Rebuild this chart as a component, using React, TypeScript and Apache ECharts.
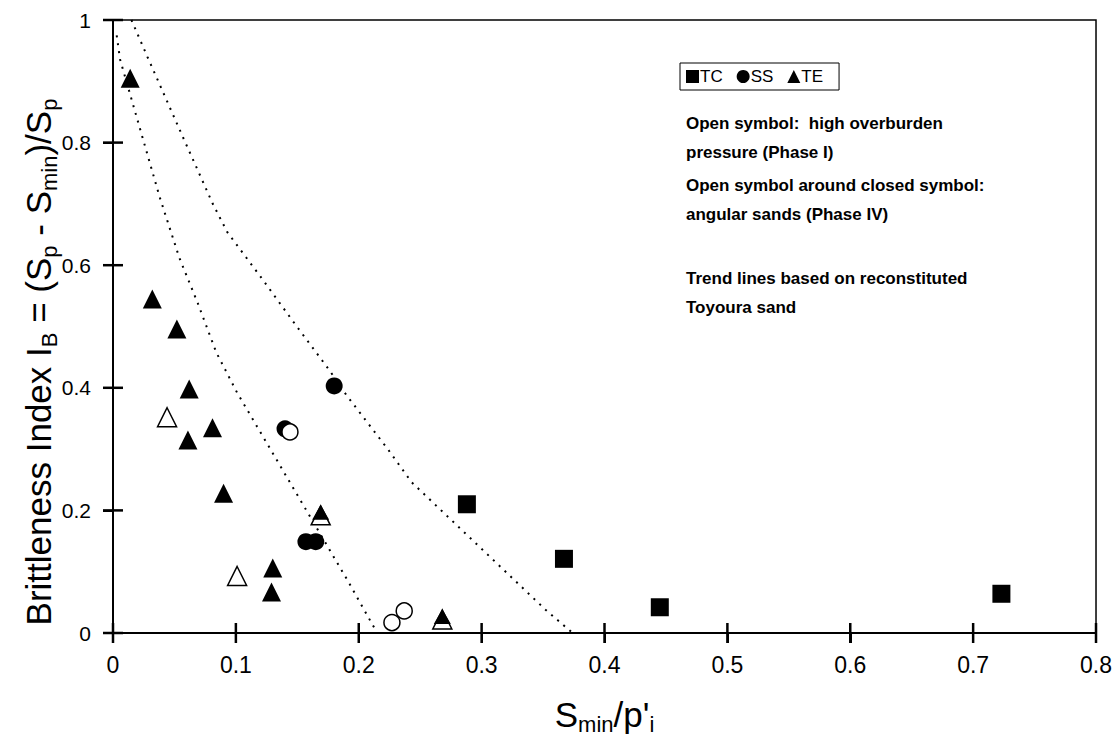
import React, { useEffect, useRef } from "react";
import * as echarts from "echarts";

// Axis ranges (S_min / p'_i on x, brittleness index on y)
const X_MIN = 0;
const X_MAX = 0.8;
const X_STEP = 0.1;
const Y_MIN = 0;
const Y_MAX = 1;
const Y_STEP = 0.2;

// Tick positions (drawn as crossing ticks on both axes)
const xTicks = [0, 0.1, 0.2, 0.3, 0.4, 0.5, 0.6, 0.7, 0.8];
const yTicks = [0, 0.2, 0.4, 0.6, 0.8, 1];

// TC: triaxial compression, SS: simple shear, TE: triaxial extension
const tcClosed: number[][] = [
  [0.288, 0.21],
  [0.367, 0.121],
  [0.445, 0.042],
  [0.723, 0.064],
];
const ssClosed: number[][] = [
  [0.18, 0.403],
  [0.14, 0.333],
  [0.157, 0.149],
  [0.165, 0.149],
];
const ssHighOverburden: number[][] = [
  [0.144, 0.328],
  [0.227, 0.017],
  [0.237, 0.036],
];
const teClosed: number[][] = [
  [0.014, 0.905],
  [0.032, 0.545],
  [0.052, 0.496],
  [0.062, 0.398],
  [0.081, 0.335],
  [0.061, 0.315],
  [0.09, 0.228],
  [0.13, 0.106],
  [0.129, 0.067],
];
const teHighOverburden: number[][] = [
  [0.044, 0.352],
  [0.101, 0.093],
];
const teAngular: number[][] = [
  [0.169, 0.192],
  [0.268, 0.022],
];

// Trend lines for reconstituted Toyoura sand
const lowerTrend: number[][] = [
  [0.003, 0.975],
  [0.0057, 0.936],
  [0.038, 0.711],
  [0.054, 0.612],
  [0.069, 0.538],
  [0.084, 0.458],
  [0.101, 0.392],
  [0.126, 0.307],
  [0.192, 0.082],
  [0.215, 0],
];
const upperTrend: number[][] = [
  [0.015, 1.0],
  [0.028, 0.94],
  [0.058, 0.804],
  [0.081, 0.701],
  [0.093, 0.654],
  [0.122, 0.576],
  [0.147, 0.507],
  [0.176, 0.429],
  [0.19, 0.388],
  [0.224, 0.299],
  [0.243, 0.246],
  [0.352, 0.038],
  [0.374, 0],
];

const notes: string[] = [
  "Open symbol:  high overburden",
  "pressure (Phase I)",
  "Open symbol around closed symbol:",
  "angular sands (Phase IV)",
  "Trend lines based on reconstituted",
  "Toyoura sand",
];
const noteTops = [115, 144, 177, 206, 270, 299];

const SANS = "'Liberation Sans', Arial, sans-serif";
const NARROW = "'Liberation Sans Narrow', 'Arial Narrow', 'Liberation Sans', sans-serif";

export default function App() {
  const ref = useRef<HTMLDivElement>(null);

  useEffect(() => {
    if (!ref.current) return;
    const chart = echarts.init(ref.current, undefined, { renderer: "svg" });

    const filled = { color: "#000", opacity: 1 };
    const open = { color: "#fff", borderColor: "#000", borderWidth: 1.5, opacity: 1 };

    // Crossing tick marks, placed on the axes through the cartesian scales
    const tickMarks = (values: number[], onXAxis: boolean) => ({
      name: onXAxis ? "x ticks" : "y ticks",
      type: "line",
      silent: true,
      z: 6,
      symbol: "none",
      lineStyle: { width: 0, opacity: 0 },
      data: values.map((v) => (onXAxis ? [v, Y_MIN] : [X_MIN, v])),
      markPoint: {
        silent: true,
        symbol: "rect",
        symbolSize: onXAxis ? [2.5, 20] : [20, 2.5],
        itemStyle: { color: "#000", opacity: 1 },
        label: { show: false },
        data: values.map((v) => ({ coord: onXAxis ? [v, Y_MIN] : [X_MIN, v] })),
      },
    });

    const option: any = {
      animation: false,
      backgroundColor: "#fff",
      grid: {
        left: 113,
        right: 14,
        top: 20,
        bottom: 114,
        show: true,
        borderColor: "#000",
        borderWidth: 1.5,
      },
      xAxis: {
        type: "value",
        min: X_MIN,
        max: X_MAX,
        interval: X_STEP,
        splitLine: { show: false },
        axisLine: { show: true, onZero: false, lineStyle: { color: "#000", width: 2 } },
        axisTick: {
          show: true,
          inside: false,
          length: 10,
          lineStyle: { color: "#000", width: 2 },
        },
        axisLabel: { color: "#000", fontSize: 23, fontFamily: NARROW, margin: 20 },
        name: "{n|S}{s|min}{n|/p'}{s|i}",
        nameLocation: "middle",
        nameGap: 60,
        nameTextStyle: {
          color: "#000",
          fontFamily: NARROW,
          rich: {
            n: { fontSize: 35, fontFamily: NARROW, color: "#000", lineHeight: 42 },
            s: {
              fontSize: 22,
              fontFamily: NARROW,
              color: "#000",
              verticalAlign: "bottom",
              lineHeight: 22,
            },
          },
        },
      },
      yAxis: {
        type: "value",
        min: Y_MIN,
        max: Y_MAX,
        interval: Y_STEP,
        splitLine: { show: false },
        axisLine: { show: true, onZero: false, lineStyle: { color: "#000", width: 2 } },
        axisTick: {
          show: true,
          inside: false,
          length: 10,
          lineStyle: { color: "#000", width: 2 },
        },
        axisLabel: { color: "#000", fontSize: 21, fontFamily: SANS, margin: 22 },
      },
      legend: {
        left: 680,
        top: 63,
        orient: "horizontal",
        selectedMode: false,
        itemWidth: 13,
        itemHeight: 13,
        itemGap: 14,
        padding: [5, 16, 5, 6],
        borderColor: "#000",
        borderWidth: 1,
        textStyle: { color: "#000", fontSize: 17, fontFamily: SANS, padding: [0, 0, 0, -4] },
        data: [
          { name: "TC", icon: "rect" },
          { name: "SS", icon: "circle" },
          { name: "TE", icon: "triangle" },
        ],
      },
      graphic: [
        {
          type: "text",
          x: 38,
          y: 362,
          rotation: Math.PI / 2,
          style: {
            text: "{n|Brittleness Index I}{s|B}{n| = (S}{s|p}{n| - S}{s|min}{n|)/S}{s|p}",
            align: "center",
            verticalAlign: "middle",
            fill: "#000",
            rich: {
              n: { fontSize: 35, fontFamily: SANS, fill: "#000", lineHeight: 44 },
              s: {
                fontSize: 22,
                fontFamily: SANS,
                fill: "#000",
                verticalAlign: "bottom",
                lineHeight: 22,
              },
            },
          },
        },
        ...notes.map((t, i) => ({
          type: "text",
          left: 686,
          top: noteTops[i],
          style: {
            text: t,
            fill: "#000",
            font: `bold 17px ${SANS}`,
          },
        })),
      ],
      series: [
        {
          name: "lower trend",
          type: "line",
          data: lowerTrend,
          symbol: "none",
          silent: true,
          z: 1,
          lineStyle: { color: "#000", width: 2, type: [2, 6] },
        },
        {
          name: "upper trend",
          type: "line",
          data: upperTrend,
          symbol: "none",
          silent: true,
          z: 1,
          lineStyle: { color: "#000", width: 2, type: [2, 6] },
        },
        tickMarks(xTicks, true),
        tickMarks(yTicks, false),
        {
          name: "TC",
          type: "scatter",
          symbol: "rect",
          symbolSize: 18,
          itemStyle: filled,
          data: tcClosed,
          silent: true,
          z: 3,
        },
        {
          name: "SS",
          type: "scatter",
          symbol: "circle",
          symbolSize: 17,
          itemStyle: filled,
          data: ssClosed,
          silent: true,
          z: 3,
        },
        {
          name: "SS high overburden",
          type: "scatter",
          symbol: "circle",
          symbolSize: 16,
          itemStyle: open,
          data: ssHighOverburden,
          silent: true,
          z: 4,
        },
        {
          name: "TE",
          type: "scatter",
          symbol: "triangle",
          symbolSize: [19, 19],
          itemStyle: filled,
          data: teClosed,
          silent: true,
          z: 3,
        },
        {
          name: "TE high overburden",
          type: "scatter",
          symbol: "triangle",
          symbolSize: [19, 19],
          itemStyle: open,
          data: teHighOverburden,
          silent: true,
          z: 3,
        },
        {
          name: "TE angular outline",
          type: "scatter",
          symbol: "triangle",
          symbolSize: [19, 19],
          itemStyle: open,
          data: teAngular,
          silent: true,
          z: 3,
        },
        {
          name: "TE angular core",
          type: "scatter",
          symbol: "triangle",
          symbolSize: [17, 15],
          symbolOffset: [0, -3],
          itemStyle: filled,
          data: teAngular,
          silent: true,
          z: 4,
        },
      ],
    };

    chart.setOption(option);
    return () => chart.dispose();
  }, []);

  return (
    <div
      ref={ref}
      style={{ position: "fixed", left: 0, top: 0, width: 1115, height: 747, background: "#fff" }}
    />
  );
}
